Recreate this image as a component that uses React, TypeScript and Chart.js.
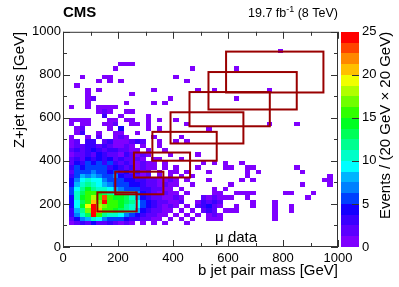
import React, { useEffect, useRef } from 'react';
import { Chart, registerables } from 'chart.js';

Chart.register(...registerables);

const FONT = "'Liberation Sans', Arial, Helvetica, sans-serif";

// ---- data -------------------------------------------------------------
const BIN_GEV = 20;            // bin size (GeV) in both directions
const FIRST_ROW_Y = 100;       // lower edge (GeV) of the first row below
const CODE = '.123456789abcdefghijklmnop'; // '.'=0, '1'..'9', 'a'=10 ... 'p'=25
// event counts, one string per 20 GeV row of Z+jet mass (from 100 GeV upward),
// one character per 20 GeV column of b jet pair mass (0 .. 1000 GeV)
const COUNT_ROWS = [
  '.123242232 121.1.1.1. ..1....... .......... ..........', // 100
  '.2478b9765 54332211.1 .1.1..111. ........1. ..........', // 120
  '.37adofcba 976432211. 1.1.1.121. ........1. ..........', // 140
  '.38chpkgfe dca8432211 .1.1.232.1 11......1. .1........', // 160
  '.49ejpihgf ecb9543212 1.1.23421. .1..1...1. .1........', // 180
  '.49dglhoff edc9543221 12..13232. ....1...1. ..........', // 200
  '.4aegignfe edb8432211 21...21211 1..1...... ....1.....', // 220
  '.5adfgedcb cb97432121 1.1....11. .1111..... 11...1....', // 240
  '.59cecba98 7665332211 .1.....1.1 .......... ..........', // 260
  '.48bca9876 6544322121 1..1...... 1......... ...1....1.', // 280
  '.479a99766 5443322112 1.1...1... ..1.1..... .......11.', // 300
  '.368787657 433212.1.1 .1.1...... ...1...... ........1.', // 320
  '.256576545 342312.1.1 1.1...1... ...1.1.... ...1......', // 340
  '.354656534 3231211.1. 1...1....1 1..11..... ..1.......', // 360
  '.243545353 2321211.1. .....1.1.1 ..1....... ..........', // 380
  '.232434342 32221.11.. .1........ .......... ..........', // 400
  '.122324322 132121...1 ....1..... .......... ..........', // 420
  '.232343233 2211.1..1. .......... .......... ..........', // 440
  '.122332321 121.1..1.. .......... .......... ..........', // 460
  '.12.33.231 11232..1.. 1.1....... .......... ..........', // 480
  '.1..1.2..1 21....1... .1........ .......... ..........', // 500
  '..13..1..1 1..1...... .......... .......... ..........', // 520
  '..12....1. 4....1.1.. ......1... .......... ..........', // 540
  '.1.11..112 ..11.1.... ..1....... .......1.. ..1.......', // 560
  '.1111...11 .11..1.1.. 1......... .......... ..........', // 580
  '.......3.. 1....1.... .......... .......... ..........', // 600
  '......121. .11....... .......... .......... ..........', // 620
  '.1..1.1111 .......... .......... .......... ..........', // 640
  '....1..... .1....1.1. .......... .......... ..........', // 660
  '....12.... .........1 .......... .1........ ..........', // 680
  '....1..... ..1....... .......... .......... ..........', // 700
  '....1.1... ......1... ....1..1.. .......1.. ..........', // 720
  '..1....... .......... .......... .......... ..........', // 740
  '......1.1. 1......... ..1....... .......... ..........', // 760
  '...1...11. .......... 1......... .......... ..........', // 780
  '.......... .......... .......... .......... ..........', // 800
  '.........1 .......... ...1...... .1........ ..........', // 820
  '.......... 111....... .......... .......... ..........', // 840
  '.......... .......... .......... .......... ..........', // 860
  '.......... .......... .......... .......... ..........', // 880
  '.......... .......... .......... .........1 ..........', // 900
];

// signal mass windows (GeV)
const WINDOW_X_LO = [125, 190, 258, 325, 391, 460, 529, 593];
const WINDOW_X_HI = [268, 365, 462, 559, 656, 752, 850, 947];
const WINDOW_Y_LO = [165, 245, 323, 401, 481, 561, 639, 718];
const WINDOW_Y_HI = [254, 350, 439, 535, 626, 720, 813, 908];

const AXIS_MIN = 0;
const AXIS_MAX = 1000;
const AXIS_STEP = 200;
const Z_MIN = 0;
const Z_MAX = 25;
const Z_STEP = 5;
const Z_LEVELS = 20;

const PALETTE = [
  '#7f00ff', '#5c00ff', '#3a00ff', '#1400ff', '#0040ff',
  '#0080ff', '#00b4ff', '#00ffff', '#00ffc8', '#00ff90',
  '#00ff58', '#00ff20', '#30ff00', '#70ff00', '#b0ff00',
  '#f0ff00', '#ffc000', '#ff8800', '#ff4400', '#ff0000',
];

type Cell = { x: number; y: number; v: number };

function buildCells(): Cell[] {
  const cells: Cell[] = [];
  COUNT_ROWS.forEach((row, r) => {
    const s = row.replace(/ /g, '');
    for (let c = 0; c < s.length; c++) {
      const v = CODE.indexOf(s[c]);
      if (v > 0) {
        cells.push({
          x: c * BIN_GEV + BIN_GEV / 2,
          y: FIRST_ROW_Y + r * BIN_GEV + BIN_GEV / 2,
          v,
        });
      }
    }
  });
  return cells;
}

function colorFor(v: number) {
  const band = Math.min(Z_LEVELS - 1, Math.floor((v / (Z_MAX - Z_MIN)) * Z_LEVELS));
  return PALETTE[band];
}

const heatmapPlugin = {
  id: 'heatmap',
  beforeDatasetsDraw(chart: any) {
    const { ctx, chartArea } = chart;
    const xs = chart.scales.x;
    const ys = chart.scales.y;
    const data: Cell[] = chart.data.datasets[0].data;
    ctx.save();
    ctx.beginPath();
    ctx.rect(chartArea.left, chartArea.top, chartArea.right - chartArea.left, chartArea.bottom - chartArea.top);
    ctx.clip();
    const h = BIN_GEV / 2;
    for (const p of data) {
      const x0 = Math.round(xs.getPixelForValue(p.x - h));
      const x1 = Math.round(xs.getPixelForValue(p.x + h));
      const y0 = Math.round(ys.getPixelForValue(p.y + h));
      const y1 = Math.round(ys.getPixelForValue(p.y - h));
      ctx.fillStyle = colorFor(p.v);
      ctx.fillRect(x0, y0, x1 - x0, y1 - y0);
    }
    ctx.restore();
  },
  afterDatasetsDraw(chart: any) {
    const { ctx } = chart;
    const xs = chart.scales.x;
    const ys = chart.scales.y;
    ctx.save();
    ctx.strokeStyle = '#990000';
    ctx.lineWidth = 2;
    for (let i = 0; i < WINDOW_X_LO.length; i++) {
      const x0 = xs.getPixelForValue(WINDOW_X_LO[i]);
      const x1 = xs.getPixelForValue(WINDOW_X_HI[i]);
      const y0 = ys.getPixelForValue(WINDOW_Y_HI[i]);
      const y1 = ys.getPixelForValue(WINDOW_Y_LO[i]);
      ctx.strokeRect(x0, y0, x1 - x0, y1 - y0);
    }
    ctx.restore();
  },
  afterDraw(chart: any) {
    const { ctx, chartArea } = chart;
    const { left, right, top, bottom } = chartArea;
    const xs = chart.scales.x;
    const ys = chart.scales.y;
    const zs = chart.scales.z;
    ctx.save();
    // frame
    ctx.strokeStyle = '#333';
    ctx.lineWidth = 1;
    ctx.strokeRect(left + 0.5, top + 0.5, right - left - 1, bottom - top - 1);
    // inside ticks on all four sides
    ctx.beginPath();
    for (let v = AXIS_MIN; v <= AXIS_MAX; v += AXIS_STEP / 2) {
      const len = v % AXIS_STEP === 0 ? 7 : 4;
      const px = Math.round(xs.getPixelForValue(v)) + 0.5;
      ctx.moveTo(px, bottom); ctx.lineTo(px, bottom - len);
      ctx.moveTo(px, top); ctx.lineTo(px, top + len);
      const py = Math.round(ys.getPixelForValue(v)) + 0.5;
      ctx.moveTo(left, py); ctx.lineTo(left + len, py);
      ctx.moveTo(right, py); ctx.lineTo(right - len, py);
    }
    ctx.stroke();

    // colour bar
    const bx0 = zs.left + 3;
    const bx1 = zs.left + 21;
    const step = (Z_MAX - Z_MIN) / Z_LEVELS;
    for (let k = 0; k < Z_LEVELS; k++) {
      const y0 = Math.round(zs.getPixelForValue(Z_MIN + (k + 1) * step));
      const y1 = Math.round(zs.getPixelForValue(Z_MIN + k * step));
      ctx.fillStyle = PALETTE[k];
      ctx.fillRect(bx0, y0, bx1 - bx0, y1 - y0);
    }
    ctx.strokeStyle = '#333';
    ctx.beginPath();
    for (let v = Z_MIN + Z_STEP; v < Z_MAX; v += Z_STEP) {
      const py = Math.round(zs.getPixelForValue(v)) + 0.5;
      ctx.moveTo(bx1, py); ctx.lineTo(bx1 - 7, py);
    }
    ctx.stroke();

    // colour bar title
    ctx.fillStyle = '#000';
    ctx.font = `15px ${FONT}`;
    ctx.save();
    ctx.translate(386, zs.top);
    ctx.rotate(-Math.PI / 2);
    ctx.textAlign = 'right';
    ctx.textBaseline = 'middle';
    ctx.fillText('Events / (20 GeV \u00d7 20 GeV)', 0, 0);
    ctx.restore();

    // CMS label
    ctx.textBaseline = 'alphabetic';
    ctx.textAlign = 'left';
    ctx.font = `bold 15px ${FONT}`;
    ctx.fillText('CMS', left, 17);

    // luminosity label with superscript
    ctx.textAlign = 'right';
    ctx.font = `12.5px ${FONT}`;
    const tail = ' (8 TeV)';
    ctx.fillText(tail, right, 17);
    let xr = right - ctx.measureText(tail).width;
    ctx.font = `9px ${FONT}`;
    ctx.fillText('-1', xr, 12);
    xr -= ctx.measureText('-1').width;
    ctx.font = `12.5px ${FONT}`;
    ctx.fillText('19.7 fb', xr, 17);

    // sample label
    ctx.textAlign = 'left';
    ctx.font = `15px ${FONT}`;
    ctx.fillText('\u03bc data', xs.getPixelForValue(553), ys.getPixelForValue(22));
    ctx.restore();
  },
};

const plainTick = (v: any) => String(v);

export default function App() {
  const ref = useRef<HTMLCanvasElement>(null);
  useEffect(() => {
    if (!ref.current) return;
    const cells = buildCells();
    const chart = new Chart(ref.current, {
      type: 'scatter',
      data: {
        datasets: [
          {
            label: 'mu data',
            data: cells as any,
            pointRadius: 0,
            pointHoverRadius: 0,
            showLine: false,
          },
        ],
      },
      options: {
        animation: false,
        responsive: false,
        events: [],
        layout: { padding: { top: 22, left: 0, right: 0, bottom: 0 } },
        plugins: { legend: { display: false }, tooltip: { enabled: false } },
        scales: {
          x: {
            type: 'linear',
            position: 'bottom',
            min: AXIS_MIN,
            max: AXIS_MAX,
            grid: { display: false, drawTicks: false },
            border: { display: false },
            ticks: {
              stepSize: AXIS_STEP,
              color: '#000',
              font: { family: FONT, size: 13 },
              padding: 4,
              maxRotation: 0,
              autoSkip: false,
              callback: plainTick,
            },
            title: {
              display: true,
              text: 'b jet pair mass [GeV]',
              align: 'end',
              color: '#000',
              font: { family: FONT, size: 15 },
              padding: { top: 0, bottom: 7 },
            },
            afterFit: (s: any) => { s.height = 40; },
          },
          y: {
            type: 'linear',
            position: 'left',
            min: AXIS_MIN,
            max: AXIS_MAX,
            grid: { display: false, drawTicks: false },
            border: { display: false },
            ticks: {
              stepSize: AXIS_STEP,
              color: '#000',
              font: { family: FONT, size: 13 },
              padding: 2,
              callback: plainTick,
            },
            title: {
              display: true,
              text: 'Z+jet mass [GeV]',
              align: 'end',
              color: '#000',
              font: { family: FONT, size: 15 },
              padding: { top: 11, bottom: 0 },
            },
            afterFit: (s: any) => { s.width = 63; },
          },
          z: {
            type: 'linear',
            position: 'right',
            min: Z_MIN,
            max: Z_MAX,
            grid: { display: false, drawTicks: false },
            border: { display: false },
            ticks: {
              stepSize: Z_STEP,
              color: '#000',
              font: { family: FONT, size: 13 },
              padding: 24,
              callback: plainTick,
            },
            afterFit: (s: any) => { s.width = 61; },
          },
        },
      } as any,
      plugins: [heatmapPlugin],
    });
    return () => chart.destroy();
  }, []);

  return (
    <div style={{ position: 'fixed', left: 0, top: 0, width: 399, height: 287, background: '#fff' }}>
      <canvas ref={ref} width={399} height={287} style={{ display: 'block' }} />
    </div>
  );
}
